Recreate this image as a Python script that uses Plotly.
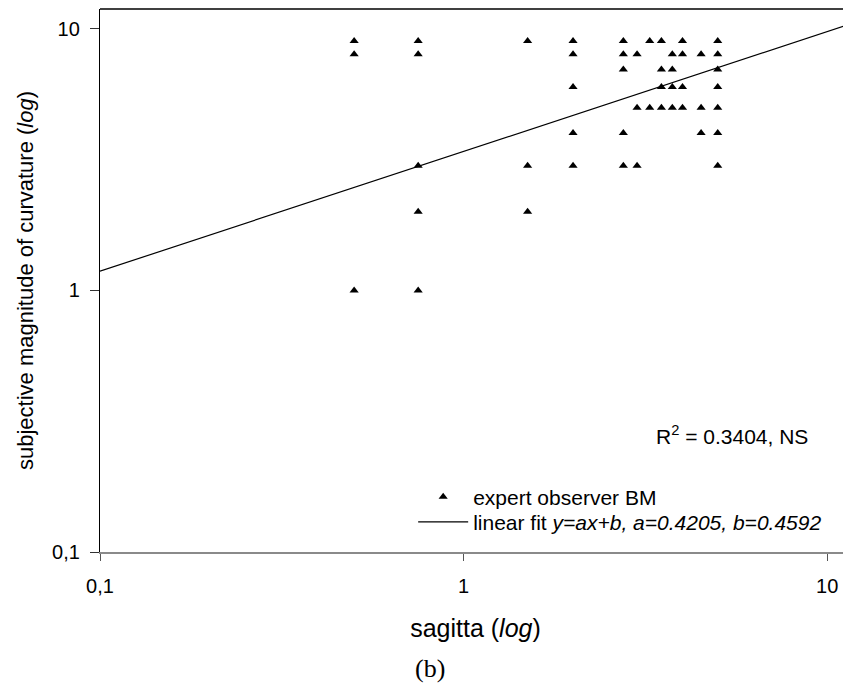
import plotly.graph_objects as go

# ---- data ----
sagitta = [0.5, 0.5, 0.5,
           0.75, 0.75, 0.75, 0.75, 0.75,
           1.5, 1.5, 1.5,
           2, 2, 2, 2, 2,
           2.75, 2.75, 2.75, 2.75, 2.75,
           3, 3, 3,
           3.25, 3.25,
           3.5, 3.5, 3.5, 3.5,
           3.75, 3.75, 3.75, 3.75,
           4, 4, 4, 4,
           4.5, 4.5, 4.5,
           5, 5, 5, 5, 5, 5, 5]
magnitude = [9, 8, 1,
             9, 8, 3, 2, 1,
             9, 3, 2,
             9, 8, 6, 4, 3,
             9, 8, 7, 4, 3,
             8, 5, 3,
             9, 5,
             9, 7, 6, 5,
             8, 7, 6, 5,
             9, 8, 6, 5,
             8, 5, 4,
             9, 8, 7, 6, 5, 4, 3]
# fit line as drawn (endpoints)
fit_x = [0.1, 11.6]
fit_y = [1.185, 10.45]

xtick_vals = [0.1, 1, 10]
xtick_text = ["0,1", "1", "10"]
ytick_vals = [0.1, 1, 10]
ytick_text = ["0,1", "1", "10"]

FONT = "Liberation Sans, Arial, sans-serif"

fig = go.Figure()
fig.add_trace(go.Scatter(
    x=sagitta, y=magnitude, mode="markers", name="expert observer BM",
    marker=dict(symbol="triangle-up", size=8, color="black", line=dict(width=0)),
    legend="legend",
))
fig.add_trace(go.Scatter(
    x=fit_x, y=fit_y, mode="lines",
    name="linear fit <i>y=ax+b, a=0.4205, b=0.4592</i>",
    line=dict(color="black", width=1.2),
    legend="legend2",
))

legend_common = dict(xanchor="left", yanchor="middle", bgcolor="rgba(0,0,0,0)",
                     font=dict(size=21, family=FONT), itemwidth=50)

fig.update_layout(
    width=843, height=679,
    margin=dict(l=92, r=0, t=1, b=135),
    paper_bgcolor="white", plot_bgcolor="white",
    font=dict(family=FONT, color="black", size=20),
    showlegend=True,
    legend=dict(x=0.417, y=0.101, **legend_common),
    legend2=dict(x=0.417, y=0.055, **legend_common),
    xaxis=dict(type="log", range=[-1, 1.0655], showgrid=False, zeroline=False,
               automargin=False,
               showline=True, linecolor="#8a8a8a", linewidth=1.5,
               ticks="outside", ticklen=7, tickcolor="#555555", tickwidth=1,
               tickvals=xtick_vals, ticktext=xtick_text, ticklabelstandoff=8,
               tickfont=dict(size=20, family=FONT),
               title=dict(text="sagitta (<i>log</i>)", font=dict(size=25, family=FONT),
                          standoff=24)),
    yaxis=dict(type="log", range=[-1, 1.0763], showgrid=False, zeroline=False,
               automargin=False,
               showline=True, linecolor="black", linewidth=1.3,
               ticks="outside", ticklen=9, tickcolor="#333333", tickwidth=1,
               tickvals=ytick_vals, ticktext=ytick_text, ticklabelstandoff=6,
               tickfont=dict(size=20, family=FONT),
               title=dict(text="subjective magnitude of curvature (<i>log</i>)",
                          font=dict(size=22, family=FONT), standoff=12)),
)

# top frame line
fig.add_shape(type="line", xref="paper", yref="paper", x0=0, x1=1, y0=1, y1=1,
              line=dict(color="black", width=1.3))

fig.add_annotation(xref="paper", yref="paper", x=0.946, y=0.215,
                   text="R<sup>2</sup> = 0.3404, NS", showarrow=False,
                   xanchor="right", yanchor="middle",
                   font=dict(size=21, family=FONT, color="black"))

fig.add_annotation(xref="paper", yref="paper", x=0.44, y=-0.215,
                   text="(b)", showarrow=False, xanchor="center", yanchor="middle",
                   font=dict(size=26, family="Liberation Serif, Times New Roman, serif",
                             color="black"))

fig.write_html("out.html")
